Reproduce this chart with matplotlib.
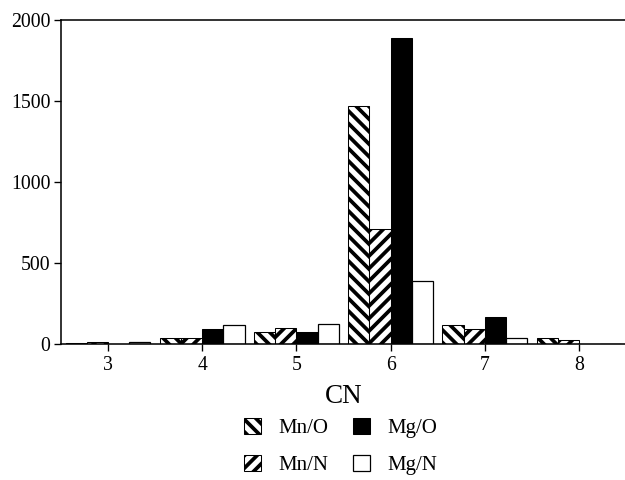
import numpy as np
import matplotlib
matplotlib.use('Agg')
import matplotlib.pyplot as plt

# data
cn = [3, 4, 5, 6, 7, 8]
mn_o = [5, 40, 75, 1470, 120, 40]
mn_n = [12, 40, 100, 710, 95, 25]
mg_o = [2, 95, 75, 1890, 165, 0]
mg_n = [12, 120, 125, 390, 40, 0]
y_ticks = [0, 500, 1000, 1500, 2000]

plt.rcParams['font.family'] = ['Liberation Serif', 'DejaVu Serif']
plt.rcParams['hatch.linewidth'] = 3.6
plt.rcParams['hatch.color'] = 'black'

dpi = 75
fig = plt.figure(figsize=(626 / dpi, 480 / dpi), dpi=dpi)
ax = fig.add_axes([61 / 626, 1 - 344 / 480, 1 - 61 / 626, 324 / 480])

x = np.array(cn, dtype=float)
w = 0.225
b1 = ax.bar(x - 1.5 * w, mn_o, w, facecolor='white', edgecolor='black',
            hatch='\\\\', linewidth=1, label='Mn/O')
b2 = ax.bar(x - 0.5 * w, mn_n, w, facecolor='white', edgecolor='black',
            hatch='//', linewidth=1, label='Mn/N')
b3 = ax.bar(x + 0.5 * w, mg_o, w, facecolor='black', edgecolor='black',
            linewidth=1, label='Mg/O')
b4 = ax.bar(x + 1.5 * w, mg_n, w, facecolor='white', edgecolor='black',
            linewidth=1.2, label='Mg/N')

ax.set_xlim(2.5, 8.5)
ax.set_ylim(0, 2000)
ax.set_xticks(cn)
ax.set_yticks(y_ticks)
ax.spines['right'].set_visible(False)
for s in ['left', 'bottom', 'top']:
    ax.spines[s].set_linewidth(1.5)
ax.tick_params(axis='both', direction='out', length=7, width=1.3,
               labelsize=19, pad=3)
ax.tick_params(axis='x', pad=5)

ax.set_xlabel('CN', fontsize=26)
ax.xaxis.set_label_coords(0.5, -0.122)

fig.legend(handles=[b1, b2, b3, b4], ncol=2, frameon=False,
           loc='upper left', bbox_to_anchor=(244 / 626, 1 - 418 / 480),
           fontsize=20, handlelength=0.8, handleheight=0.8,
           handletextpad=0.85, columnspacing=1.2, labelspacing=0.8,
           borderpad=0, borderaxespad=0)

fig.savefig('out.png', dpi=dpi)
